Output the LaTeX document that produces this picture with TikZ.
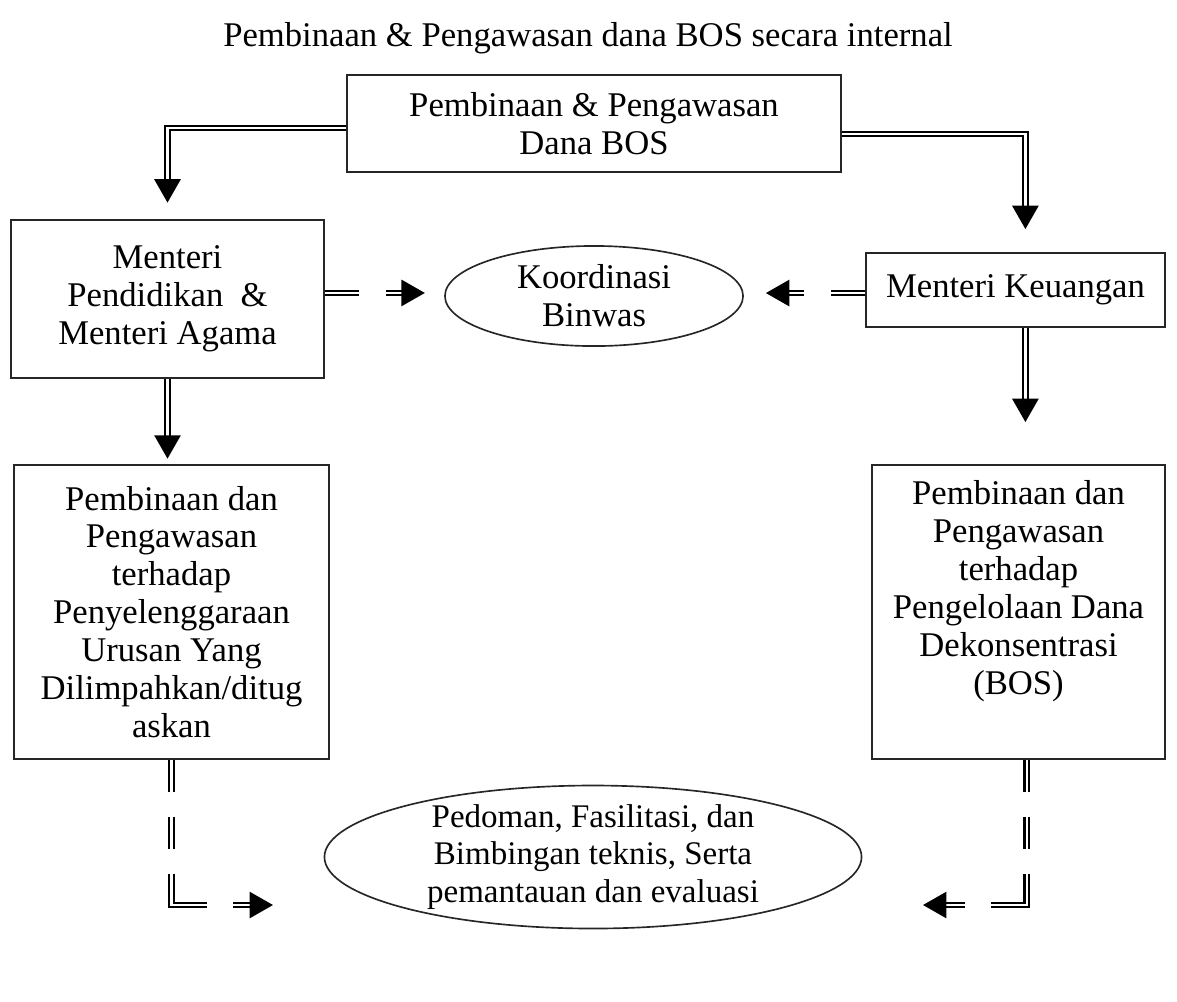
\documentclass[tikz,border=0pt]{standalone}
\usepackage{fontspec}
\setmainfont{Liberation Serif}
\usetikzlibrary{arrows.meta,shapes.geometric}

\begin{document}
\begin{tikzpicture}[x=0.3636pt,y=-0.3636pt,
  every node/.style={font=\fontsize{12.6}{13.8}\selectfont,align=center},
  kotak/.style={draw=black!85,line width=0.6pt,inner sep=0pt},
  oval/.style={ellipse,draw=black!85,line width=0.6pt,inner sep=0pt},
  panah/.style={draw=black,double=white,line width=0.8pt,double distance=0.8pt,-{Triangle[length=8.5pt,width=9.5pt]}},
  putus/.style={panah,dash pattern=on 12.4pt off 9.8pt on 40pt},
  putusL/.style={panah,dash pattern=on 11.6pt off 9.1pt on 11.6pt off 9.1pt on 24.4pt off 9.5pt on 30pt}]
\useasboundingbox (0,0) rectangle (1177,1001);
\node (judul) at (588,38) {Pembinaan \& Pengawasan dana BOS secara internal};
\node [kotak,minimum width=179.6pt,minimum height=35.3pt] (top) at (594,123.5) {Pembinaan \& Pengawasan\\Dana BOS};
\node [kotak,minimum width=113.8pt,minimum height=57.5pt] (mdk) at (167.5,299) {Menteri\\Pendidikan\ \ \&\\Menteri Agama};
\node [oval,minimum width=108.4pt,minimum height=36.4pt] (koord) at (594,296) {Koordinasi\\Binwas};
\node [kotak,minimum width=108.7pt,minimum height=26.9pt] (mku) at (1015.5,290) {Menteri Keuangan};
\node [kotak,minimum width=114.5pt,minimum height=106.9pt] (lbox) at (171.5,612) {Pembinaan dan\\Pengawasan\\terhadap\\Penyelenggaraan\\Urusan Yang\\Dilimpahkan/ditug\\askan};
\node [kotak,minimum width=106.5pt,minimum height=106.9pt] (rbox) at (1018.5,612) {Pembinaan dan\\Pengawasan\\terhadap\\Pengelolaan Dana\\Dekonsentrasi\\(BOS)\\ \strut};
\node [oval,inner ysep=-1.5pt,minimum width=195.3pt,minimum height=52pt,font=\fontsize{12}{13.8}\selectfont] (ped) at (593,857) {Pedoman, Fasilitasi, dan\\Bimbingan teknis, Serta\\pemantauan dan evaluasi};
\coordinate (pL) at (273,905);
\coordinate (pR) at (923,905);
\draw [panah,shorten >=6pt] ([yshift=-1.6pt]top.west) -| (mdk.north);
\draw [panah,shorten >=8.4pt] ([yshift=-3.8pt]top.east) -| ([xshift=3.6pt]mku.north);
\draw [putus,shorten >=7pt] ([yshift=2.2pt]mdk.east) -- ([yshift=2.2pt]mdk.east -| koord.west);
\draw [putus,shorten >=8pt] ([yshift=-1.1pt]mku.west) -- ([yshift=-1.1pt]mku.west -| koord.east);
\draw [panah,shorten >=2pt] (mdk.south) -- (mdk.south |- lbox.north);
\draw [panah,shorten >=15.3pt] ([xshift=3.6pt]mku.south) -- ([xshift=3.6pt]mku.south |- rbox.north);
\draw [putusL] (lbox.south) |- (pL);
\draw [putusL] ([xshift=3pt]rbox.south) |- (pR);
\end{tikzpicture}
\end{document}
